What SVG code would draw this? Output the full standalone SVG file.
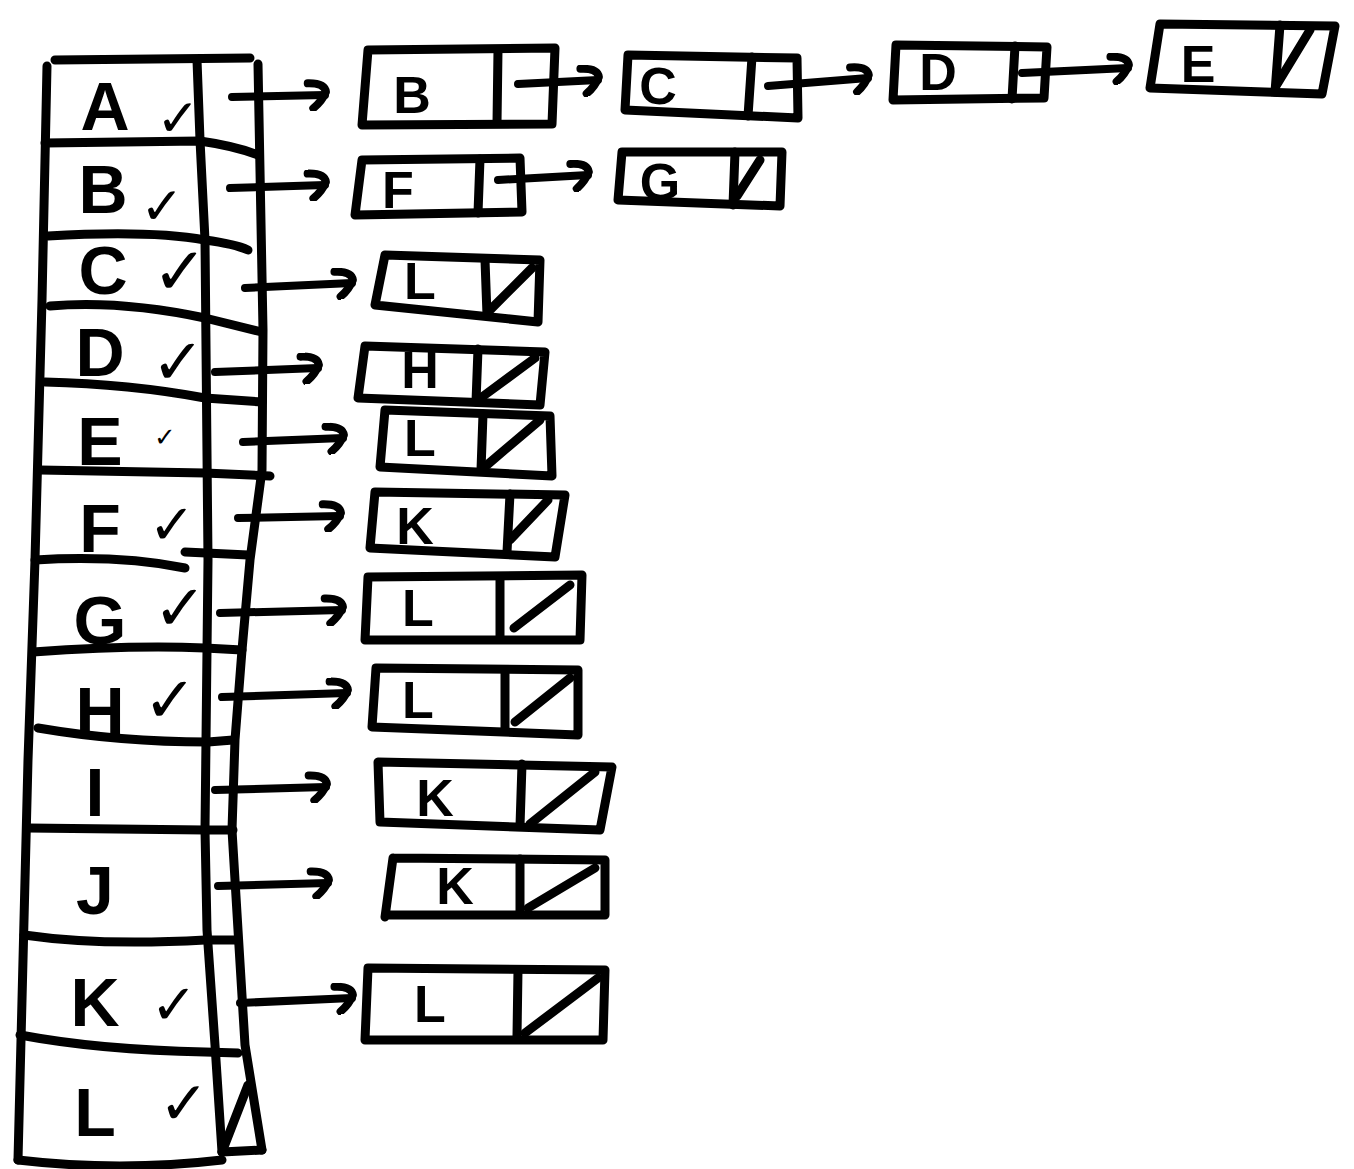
<svg xmlns="http://www.w3.org/2000/svg" width="1354" height="1169" viewBox="0 0 1354 1169">
<style>
.s{fill:none;stroke:#000;stroke-width:9;stroke-linecap:round;stroke-linejoin:round}
.t{fill:none;stroke:#000;stroke-width:8;stroke-linecap:round;stroke-linejoin:round}
.big{font-family:"Liberation Sans",Arial,sans-serif;font-weight:bold;font-size:68px;fill:#000;text-anchor:middle}
.sm{font-family:"Liberation Sans",Arial,sans-serif;font-weight:bold;font-size:52px;fill:#000;text-anchor:middle}
.ck{font-family:"DejaVu Sans",sans-serif;font-weight:bold;fill:#000;text-anchor:middle}
</style>
<defs>
<marker id="ah" viewBox="-22 -16 28 32" refX="0" refY="0" markerWidth="28" markerHeight="32" markerUnits="userSpaceOnUse" orient="auto">
<path d="M-17,-12 Q0,-12 1,-3 Q-3,6 -12,13" fill="none" stroke="#000" stroke-width="8" stroke-linecap="round" stroke-linejoin="round"/>
</marker>
</defs>
<rect width="1354" height="1169" fill="#fff"/>

<g id="table">
<path class="s" d="M55,60 L250,58"/>
<path class="s" d="M47,66 L42,300 L35,560 L28,760 L22,1000 L18,1160"/>
<path class="s" d="M197,60 L200,140 L205,240 L208,560 L206,740 L205,830 L207,930 L215,1045 L222,1152"/>
<path class="s" d="M258,64 L263,330 L262,470 L250,560 L242,650 L235,740 L232,830 L238,930 L245,1045 L262,1150"/>
<path class="s" d="M45,143 L200,141 Q235,146 258,155"/>
<path class="s" d="M48,236 Q150,230 205,240 Q235,244 248,250"/>
<path class="s" d="M50,306 Q120,300 205,318 L262,332"/>
<path class="s" d="M45,382 Q130,384 205,398 L262,402"/>
<path class="s" d="M40,470 L205,473 L270,476"/>
<path class="s" d="M35,560 Q120,555 185,568 M185,552 L248,555"/>
<path class="s" d="M33,652 Q130,645 205,648 L242,650"/>
<path class="s" d="M38,728 Q120,742 208,742 L233,740"/>
<path class="s" d="M28,828 L205,830 L233,830"/>
<path class="s" d="M24,935 Q100,946 205,940 L237,940"/>
<path class="s" d="M20,1035 Q100,1050 205,1052 L238,1053"/>
<path class="s" d="M222,1152 L248,1085"/>
<path class="s" d="M222,1152 L262,1150"/>
<path class="s" d="M18,1160 Q120,1172 222,1160"/>
</g>

<g id="row-A"><text class="big" x="105" y="130">A</text><text class="ck" x="178" y="136" font-size="52">✓</text></g>
<g id="row-B"><text class="big" x="103" y="213">B</text><text class="ck" x="162" y="224" font-size="52" font-weight="normal">✓</text></g>
<g id="row-C"><text class="big" x="103" y="294">C</text><text class="ck" x="180" y="294" font-size="66">✓</text></g>
<g id="row-D"><text class="big" x="100" y="376">D</text><text class="ck" x="178" y="384" font-size="64">✓</text></g>
<g id="row-E"><text class="big" x="100" y="465">E</text><text class="ck" x="165" y="446" font-size="26" font-weight="normal">✓</text></g>
<g id="row-F"><text class="big" x="100" y="552">F</text><text class="ck" x="172" y="544" font-size="56">✓</text></g>
<g id="row-G"><text class="big" x="100" y="644">G</text><text class="ck" x="180" y="630" font-size="64">✓</text></g>
<g id="row-H"><text class="big" x="100" y="735">H</text><text class="ck" x="170" y="722" font-size="64">✓</text></g>
<g id="row-I"><text class="big" x="95" y="816">I</text></g>
<g id="row-J"><text class="big" x="95" y="914">J</text></g>
<g id="row-K"><text class="big" x="95" y="1026">K</text><text class="ck" x="174" y="1024" font-size="56">✓</text></g>
<g id="row-L"><text class="big" x="95" y="1136">L</text><text class="ck" x="184" y="1124" font-size="60">✓</text></g>

<g id="node-A-B">
<path class="s" d="M368,50 L555,48 L552,124 L362,125 Z"/><path class="s" d="M498,50 L497,123"/>
<text class="sm" x="412" y="113">B</text></g>
<g id="node-A-C">
<path class="s" d="M628,55 L797,58 L798,118 L625,110 Z"/><path class="s" d="M752,57 L748,116"/>
<text class="sm" x="658" y="104">C</text></g>
<g id="node-A-D">
<path class="s" d="M896,45 L1047,47 L1044,98 L893,100 Z"/><path class="s" d="M1015,46 L1012,99"/>
<text class="sm" x="938" y="90">D</text></g>
<g id="node-A-E">
<path class="s" d="M1160,24 L1335,26 L1322,94 L1150,88 Z"/><path class="s" d="M1280,25 L1275,92"/><path class="s" d="M1276,86 L1310,30"/>
<text class="sm" x="1198" y="82">E</text></g>

<g id="node-B-F">
<path class="s" d="M362,160 L520,158 L522,212 L355,215 Z"/><path class="s" d="M480,159 L478,213"/>
<text class="sm" x="398" y="208">F</text></g>
<g id="node-B-G">
<path class="s" d="M622,152 L782,152 L780,206 L618,200 Z"/><path class="s" d="M735,152 L733,205"/><path class="s" d="M737,196 L760,160"/>
<text class="sm" x="660" y="200">G</text></g>

<g id="node-C-L">
<path class="s" d="M385,255 L540,260 L538,322 L375,305 Z"/><path class="s" d="M485,260 L487,315"/><path class="s" d="M490,310 L532,268"/>
<text class="sm" x="420" y="299">L</text></g>
<g id="node-D-H">
<path class="s" d="M365,346 L545,352 L540,405 L358,398 Z"/><path class="s" d="M478,349 L476,402"/><path class="s" d="M482,397 L535,358"/>
<text class="sm" x="420" y="388">H</text></g>
<g id="node-E-L">
<path class="s" d="M385,410 L550,416 L552,476 L380,467 Z"/><path class="s" d="M483,414 L481,470"/><path class="s" d="M487,465 L540,420"/>
<text class="sm" x="420" y="456">L</text></g>
<g id="node-F-K">
<path class="s" d="M375,492 L565,495 L555,557 L370,548 Z"/><path class="s" d="M510,494 L507,552"/><path class="s" d="M510,540 L548,500"/>
<text class="sm" x="415" y="544">K</text></g>
<g id="node-G-L">
<path class="s" d="M368,577 L582,575 L580,640 L365,640 Z"/><path class="s" d="M500,577 L500,638"/><path class="s" d="M514,628 L570,585"/>
<text class="sm" x="418" y="626">L</text></g>
<g id="node-H-L">
<path class="s" d="M376,668 L578,670 L578,735 L372,727 Z"/><path class="s" d="M505,670 L505,728"/><path class="s" d="M515,722 L570,678"/>
<text class="sm" x="418" y="718">L</text></g>
<g id="node-I-K">
<path class="s" d="M378,762 L612,767 L600,830 L380,822 Z"/><path class="s" d="M522,764 L520,826"/><path class="s" d="M530,824 L595,772"/>
<text class="sm" x="435" y="816">K</text></g>
<g id="node-J-K">
<path class="s" d="M393,858 L605,860 L605,915 L388,915 M393,858 L385,917"/><path class="s" d="M520,859 L520,914"/><path class="s" d="M528,908 L595,868"/>
<text class="sm" x="455" y="904">K</text></g>
<g id="node-K-L">
<path class="s" d="M368,968 L605,970 L603,1040 L365,1040 Z"/><path class="s" d="M518,970 L517,1036"/><path class="s" d="M525,1033 L598,978"/>
<text class="sm" x="430" y="1022">L</text></g>

<g id="connectors">
<path class="t" d="M232,97 L325,95" marker-end="url(#ah)"/>
<path class="t" d="M230,188 L325,185" marker-end="url(#ah)"/>
<path class="t" d="M245,288 L352,283" marker-end="url(#ah)"/>
<path class="t" d="M215,372 L318,368" marker-end="url(#ah)"/>
<path class="t" d="M243,442 L343,438" marker-end="url(#ah)"/>
<path class="t" d="M238,518 L340,516" marker-end="url(#ah)"/>
<path class="t" d="M220,613 L342,610" marker-end="url(#ah)"/>
<path class="t" d="M222,697 L347,693" marker-end="url(#ah)"/>
<path class="t" d="M215,790 L326,787" marker-end="url(#ah)"/>
<path class="t" d="M218,886 L328,883" marker-end="url(#ah)"/>
<path class="t" d="M240,1003 L352,998" marker-end="url(#ah)"/>
<path class="t" d="M518,84 L598,80" marker-end="url(#ah)"/>
<path class="t" d="M768,86 L868,78" marker-end="url(#ah)"/>
<path class="t" d="M1022,73 L1128,68" marker-end="url(#ah)"/>
<path class="t" d="M498,180 L588,175" marker-end="url(#ah)"/>
</g>
</svg>
